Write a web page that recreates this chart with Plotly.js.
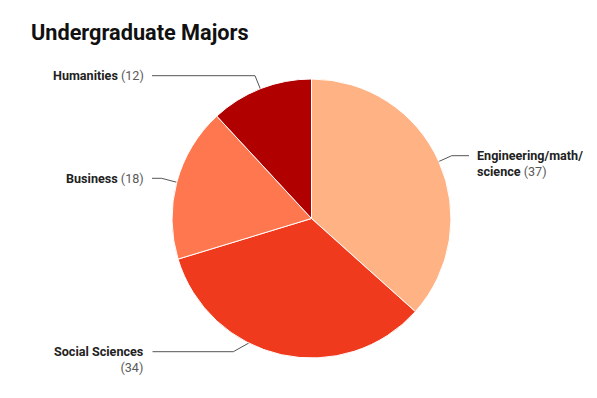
<!DOCTYPE html>
<html>
<head>
<meta charset="utf-8">
<script src="https://cdn.plot.ly/plotly-3.0.1.min.js"></script>
<style>html,body{margin:0;padding:0;background:#fff;}#chart{width:597px;height:398px;}</style>
</head>
<body>
<div id="chart"></div>
<script>
// Data
const categories = ["Engineering/math/science", "Social Sciences", "Business", "Humanities"];
const values = [37, 34, 18, 12];
const labelText = ["Engineering/math/<br>science", "Social Sciences", "Business", "Humanities"];
const colors = ["#FFB385", "#F03A1E", "#FF774F", "#B00000"];

// Layout (pixels)
const W = 597, H = 398;
const cx = 311.5, cy = 218.5, R = 139.5;
const leader = [
  {elbow: [451.7, 155.7], end: 469, textX: 475, textY: 163, anchor: "left", valueBreak: false},
  {elbow: [233.3, 351.7], end: 152.5, textX: 146, textY: 359, anchor: "right", valueBreak: true},
  {elbow: [161.7, 178.3], end: 152, textX: 146, textY: 178.5, anchor: "right", valueBreak: false},
  {elbow: [255, 75.7], end: 152, textX: 146, textY: 75.5, anchor: "right", valueBreak: false}
];

const total = values.reduce((a, b) => a + b, 0);
let cum = 0;
const lx = [], ly = [], dx = [], dy = [];
const annotations = [];
values.forEach((v, i) => {
  const th = (cum + v / 2) / total * 2 * Math.PI;
  cum += v;
  const px = cx + 0.75 * R * Math.sin(th);
  const py = cy - 0.75 * R * Math.cos(th);
  dx.push(px); dy.push(py);
  const L = leader[i];
  lx.push(px, L.elbow[0], L.end, null);
  ly.push(py, L.elbow[1], L.elbow[1], null);
  const val = "<span style='color:#5a5a5a;font-weight:normal'>(" + values[i] + ")</span>";
  annotations.push({
    xref: "x", yref: "y", x: L.textX, y: L.textY,
    xanchor: L.anchor, yanchor: "middle", align: L.anchor,
    showarrow: false,
    text: "<b>" + labelText[i] + "</b>" + (L.valueBreak ? "<br>" : " ") + val,
    font: {family: "Roboto", size: 12.6, color: "#222222"}
  });
});

const data = [
  {
    type: "pie",
    labels: categories, values: values,
    sort: false, direction: "clockwise", rotation: 0,
    marker: {colors: colors, line: {color: "#ffffff", width: 1}},
    textinfo: "none", hoverinfo: "skip", showlegend: false,
    domain: {x: [(cx - R) / W, (cx + R) / W], y: [(H - cy - R) / H, (H - cy + R) / H]}
  },
  {
    type: "scatter", mode: "lines", x: lx, y: ly,
    line: {color: "#555555", width: 1}, hoverinfo: "skip", showlegend: false
  },
  {
    type: "scatter", mode: "markers", x: dx, y: dy,
    marker: {color: "#222222", size: 5}, hoverinfo: "skip", showlegend: false
  }
];

const layout = {
  width: W, height: H,
  margin: {l: 0, r: 0, t: 0, b: 0},
  paper_bgcolor: "#ffffff", plot_bgcolor: "rgba(0,0,0,0)",
  title: {
    text: "<b>Undergraduate Majors</b>",
    x: 31 / W, xanchor: "left", xref: "paper",
    y: 1 - 32 / H, yanchor: "middle", yref: "container",
    font: {family: "Roboto", size: 21.7, color: "#111111"}
  },
  xaxis: {range: [0, W], visible: false, fixedrange: true},
  yaxis: {range: [H, 0], visible: false, fixedrange: true},
  annotations: annotations,
  showlegend: false
};

Plotly.newPlot("chart", data, layout, {staticPlot: true, displayModeBar: false});
</script>
</body>
</html>
